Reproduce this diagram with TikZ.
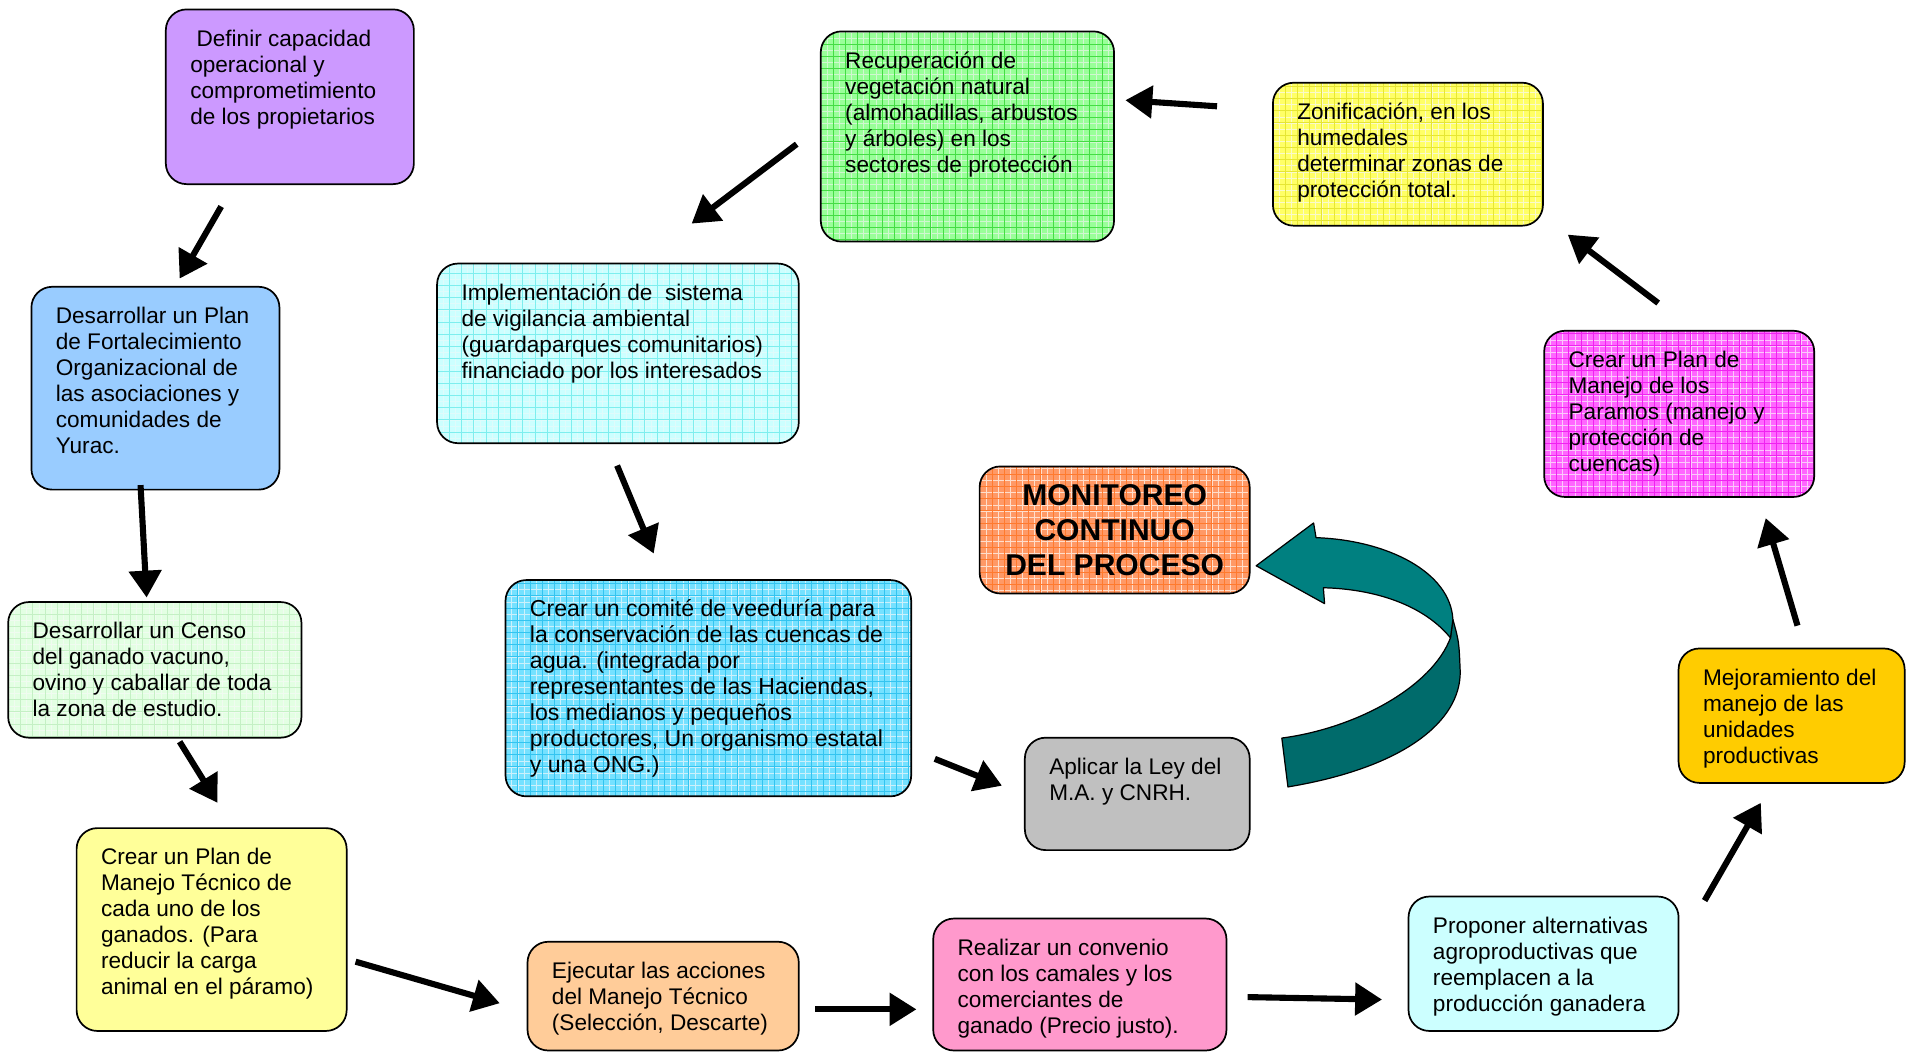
\documentclass[tikz,border=0pt]{standalone}
\usepackage{fontspec}
\setmainfont{Liberation Sans}
\usetikzlibrary{arrows.meta}

\definecolor{lila}{HTML}{CC99FF}
\definecolor{celeste}{HTML}{99CCFF}
\definecolor{verdeclaro}{HTML}{E3FFE3}
\definecolor{verdeclarogrid}{HTML}{C4F0C4}
\definecolor{amarilloclaro}{HTML}{FFFF99}
\definecolor{naranjaclaro}{HTML}{FFCC99}
\definecolor{rosa}{HTML}{FF99CC}
\definecolor{cianclaro}{HTML}{CCFFFF}
\definecolor{oro}{HTML}{FFCC00}
\definecolor{fucsia}{HTML}{FF66FF}
\definecolor{fucsiagrid}{HTML}{F022F0}
\definecolor{amarillo}{HTML}{FFFF66}
\definecolor{amarillogrid}{HTML}{E6E633}
\definecolor{verde}{HTML}{99FF99}
\definecolor{verdegrid}{HTML}{44DD44}
\definecolor{ciangrid}{HTML}{7DEEEE}
\definecolor{azulcian}{HTML}{75E1FF}
\definecolor{azulgrid}{HTML}{33C4F0}
\definecolor{naranja}{HTML}{FF9966}
\definecolor{naranjagrid}{HTML}{FF7A2E}
\definecolor{gris}{HTML}{C0C0C0}
\definecolor{verdeazul}{HTML}{008080}
\definecolor{verdeazuloscuro}{HTML}{006B6B}

% text inside a box: width, height, lines
\newcommand{\boxtext}[3]{\parbox[c][#2pt][t]{#1pt}{\hspace*{20pt}\begin{tabular}[t]{@{}l@{}}\rule{0pt}{30pt}#3\end{tabular}}}

\tikzset{
  box/.style={draw, line width=1.4pt, rounded corners=17pt, inner sep=0pt, anchor=north west,
    font=\fontsize{18.5}{21.3}\selectfont},
  gridbox/.style={box, path picture={
      \draw[#1!25, line width=0.3pt] (path picture bounding box.south west) grid[step=5pt] (path picture bounding box.north east);
      \draw[#1, line width=0.55pt] (path picture bounding box.south west) grid[step=10pt] (path picture bounding box.north east);}},
  bigarrow/.style={line width=5pt, -{Triangle[length=22pt,width=26pt]}},
  cinta/.style={draw=black, line width=1pt, line join=round},
}

\begin{document}
\begin{tikzpicture}[x=1pt,y=-1pt]
  \useasboundingbox (0,0) rectangle (1568,861);

  % left column
  \node[box, fill=lila] (defcap) at (135,7)
    {\boxtext{203}{143}{\ Definir capacidad\\operacional y\\comprometimiento\\de los propietarios}};
  \node[box, fill=celeste] (plan) at (25,234)
    {\boxtext{203}{166}{Desarrollar un Plan\\de Fortalecimiento\\Organizacional de\\las asociaciones y\\comunidades de\\Yurac.}};
  \node[gridbox=verdeclarogrid, fill=verdeclaro] (censo) at (6,492)
    {\boxtext{240}{111}{Desarrollar un Censo\\del ganado vacuno,\\ovino y caballar de toda\\la zona de estudio.}};
  \node[box, fill=amarilloclaro] (tecnico) at (62,677)
    {\boxtext{221}{166}{Crear un Plan de\\Manejo Técnico de\\cada uno de los\\ganados. (Para\\reducir la carga\\animal en el páramo)}};

  % bottom row
  \node[box, fill=naranjaclaro] (ejecutar) at (431,770)
    {\boxtext{222}{89}{Ejecutar las acciones\\del Manejo Técnico\\(Selección, Descarte)}};
  \node[box, fill=rosa] (convenio) at (763,751)
    {\boxtext{240}{108}{Realizar un convenio\\con los camales y los\\comerciantes de\\ganado (Precio justo).}};
  \node[box, fill=cianclaro] (proponer) at (1152,733)
    {\boxtext{221}{110}{Proponer alternativas\\agroproductivas que\\reemplacen a la\\producción ganadera}};

  % right side
  \node[box, fill=oro] (mejora) at (1373,530)
    {\boxtext{185}{110}{Mejoramiento del\\manejo de las\\unidades\\productivas}};
  \node[gridbox=fucsiagrid, fill=fucsia] (paramos) at (1263,270)
    {\boxtext{221}{136}{Crear un Plan de\\Manejo de los\\Paramos (manejo y\\protección de\\cuencas)}};
  \node[gridbox=amarillogrid, fill=amarillo] (zonif) at (1041,67)
    {\boxtext{221}{117}{Zonificación, en los\\humedales\\determinar zonas de\\protección total.}};

  % middle
  \node[gridbox=verdegrid, fill=verde] (recup) at (671,25)
    {\boxtext{240}{172}{Recuperación de\\vegetación natural\\(almohadillas, arbustos\\y árboles) en los\\sectores de protección}};
  \node[gridbox=ciangrid, fill=cianclaro] (vigila) at (357,215)
    {\boxtext{296}{147}{Implementación de\ \ sistema\\de vigilancia ambiental\\(guardaparques comunitarios)\\financiado por los interesados}};
  \node[gridbox=azulgrid, fill=azulcian, font=\fontsize{18.9}{21.3}\selectfont] (comite) at (413,474)
    {\boxtext{332}{177}{Crear un comité de veeduría para\\la conservación de las cuencas de\\agua. (integrada por\\representantes de las Haciendas,\\los medianos y pequeños\\productores, Un organismo estatal\\y una ONG.)}};
  \node[gridbox=naranjagrid, fill=naranja] (monitoreo) at (801,381)
    {\parbox[c][104pt][c]{221pt}{\centering\fontsize{24.6}{28.5}\selectfont\bfseries MONITOREO\\CONTINUO\\DEL PROCESO}};
  \node[box, fill=gris] (ley) at (838,603)
    {\boxtext{184}{92}{Aplicar la Ley del\\M.A. y CNRH.}};

  % arrow ends
  \coordinate (defcap-s) at (181,169);   \coordinate (plan-n) at (147,228);
  \coordinate (plan-s) at (115,397);     \coordinate (censo-n) at (120,489);
  \coordinate (censo-s) at (147,607);    \coordinate (tecnico-n) at (178,657);
  \coordinate (tecnico-e) at (291,787);  \coordinate (ejecutar-w) at (409,821);
  \coordinate (ejecutar-e) at (667,826); \coordinate (convenio-w) at (750,826);
  \coordinate (convenio-e) at (1021,816);\coordinate (proponer-w) at (1131,818);
  \coordinate (proponer-n) at (1395,737);\coordinate (mejora-s) at (1441,657);
  \coordinate (mejora-n) at (1471,512);  \coordinate (paramos-s) at (1445,424);
  \coordinate (paramos-n) at (1357,248); \coordinate (zonif-s) at (1283,192);
  \coordinate (zonif-w) at (996,87);     \coordinate (recup-e) at (921,82);
  \coordinate (recup-w) at (652,118);    \coordinate (vigila-n) at (566,183);
  \coordinate (vigila-s) at (505,381);   \coordinate (comite-n) at (535,453);
  \coordinate (comite-e) at (765,621);   \coordinate (ley-w) at (820,643);

  \draw[bigarrow] (defcap-s) -- (plan-n);
  \draw[bigarrow] (plan-s) -- (censo-n);
  \draw[bigarrow] (censo-s) -- (tecnico-n);
  \draw[bigarrow] (tecnico-e) -- (ejecutar-w);
  \draw[bigarrow] (ejecutar-e) -- (convenio-w);
  \draw[bigarrow] (convenio-e) -- (proponer-w);
  \draw[bigarrow] (proponer-n) -- (mejora-s);
  \draw[bigarrow] (mejora-n) -- (paramos-s);
  \draw[bigarrow] (paramos-n) -- (zonif-s);
  \draw[bigarrow] (zonif-w) -- (recup-e);
  \draw[bigarrow] (recup-w) -- (vigila-n);
  \draw[bigarrow] (vigila-s) -- (comite-n);
  \draw[bigarrow] (comite-e) -- (ley-w);

  % curved ribbon arrow back to the monitoring box
  \draw[cinta, fill=verdeazuloscuro] (1189,507) .. controls (1194,525) .. (1195,550)
    .. controls (1195,590) and (1150,628) .. (1054,644) -- (1049,604)
    .. controls (1110,596) and (1172,562) .. (1187,522) -- cycle;
  \draw[cinta, fill=verdeazul] (1028,463) -- (1075,428) -- (1077,440)
    .. controls (1135,442) and (1187,468) .. (1189,507) -- (1187,522)
    .. controls (1165,495) and (1125,482) .. (1083,481) -- (1084,494) -- cycle;
\end{tikzpicture}
\end{document}
